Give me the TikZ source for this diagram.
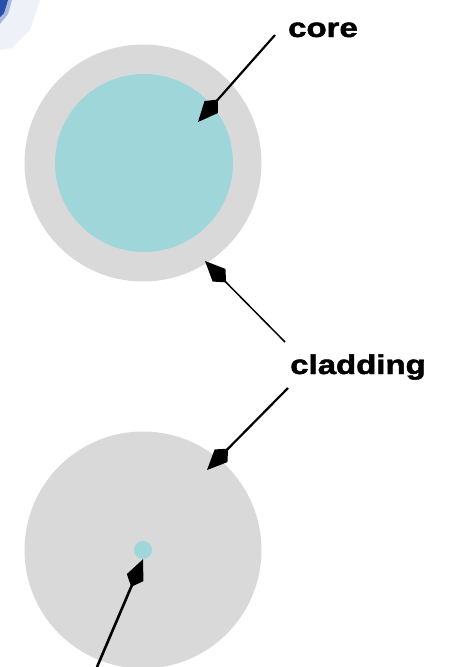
\documentclass[tikz,border=0pt]{standalone}
\usepackage{fontspec}
\newfontfamily\lblfont[BoldFeatures={FakeBold=1.6}]{Liberation Sans}
\usetikzlibrary{arrows.meta}
\definecolor{cladgray}{RGB}{217,217,217}
\definecolor{corecyan}{RGB}{158,214,218}
\definecolor{smudge}{RGB}{40,80,170}
\tikzset{
	ptr/.style={line width=2.2pt, -{Kite[length=30pt,width=18pt,inset=10pt]}},
	lbl/.style={inner sep=0pt, font=\lblfont\bfseries\fontsize{27}{30}\selectfont},
	disc/.style={circle, inner sep=0pt, draw=none},
}
\begin{document}
\begin{tikzpicture}[x=1pt,y=-1pt]
	\useasboundingbox (0,0) rectangle (454,667);
	% leftover corner of a photo
	\fill[smudge!8] (0,0) -- (40,0) -- (30,30) -- (12,48) -- (0,50) -- cycle;
	\fill[smudge!40] (0,0) -- (12,0) -- (8,14) -- (0,24) -- cycle;
	\fill[smudge] (0,0) -- (8,0) -- (4,13) -- (0,17) -- cycle;
	% fibre with large core
	\node[disc, fill=cladgray, minimum size=237pt] (cladA) at (143,163) {};
	\node[disc, fill=corecyan, minimum size=178pt] (coreA) at (144,163) {};
	% fibre with small core
	\node[disc, fill=cladgray, minimum size=237pt] (cladB) at (143,550) {};
	\node[disc, fill=corecyan, minimum size=18pt] (coreB) at (143,550) {};
	% labels
	\node[lbl, anchor=base] (corelbl) at (323,37) {\scalebox{1.22}[1]{core}};
	\node[lbl, anchor=base] (cladlbl) at (358,374) {\scalebox{1.22}[1]{cladding}};
	% arrow ends
	\coordinate (coretail) at (275,35);
	\coordinate (coretip) at (198,122);
	\coordinate (cladtailA) at (285,342);
	\coordinate (cladtipA) at (205,261);
	\coordinate (cladtailB) at (288,388);
	\coordinate (cladtipB) at (207,470);
	\coordinate (smalltail) at (97,667);
	% arrows
	\draw[ptr] (coretail) -- (coretip);
	\draw[ptr, line width=1.5pt] (cladtailA) -- (cladtipA);
	\draw[ptr] (cladtailB) -- (cladtipB);
	\draw[ptr, line width=2.6pt] (smalltail) -- (coreB.south);
\end{tikzpicture}
\end{document}
